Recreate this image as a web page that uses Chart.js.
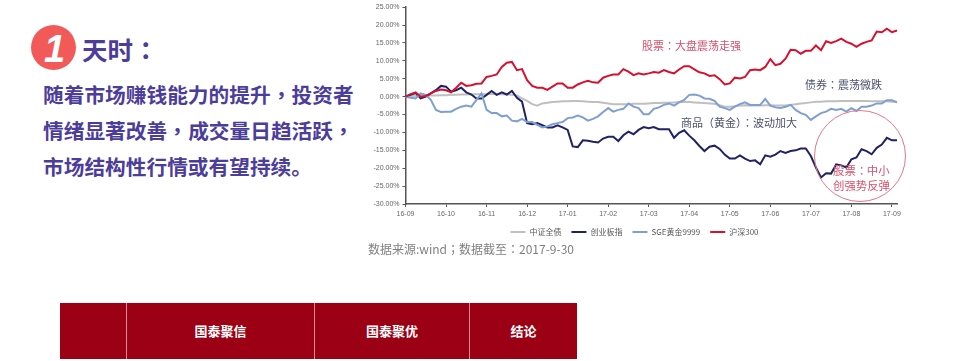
<!DOCTYPE html>
<html>
<head>
<meta charset="utf-8">
<script src="https://cdn.jsdelivr.net/npm/chart.js@4"></script>
<style>
  /* the original centres full-width punctuation, the TC cut does that */
  @font-face{font-family:Punct;font-weight:400;src:local("Noto Sans CJK TC"),local("Noto Sans CJK TC Regular");unicode-range:U+FF08,U+FF09,U+FF0C,U+FF1A,U+FF1B;}
  @font-face{font-family:Punct;font-weight:700;src:local("Noto Sans CJK TC Bold");unicode-range:U+FF08,U+FF09,U+FF0C,U+FF1A,U+FF1B;}
  html,body{margin:0;padding:0;background:#fff;}
  body{width:956px;height:361px;position:relative;overflow:hidden;font-family:Punct,"Noto Sans CJK SC",sans-serif;}
  .t{position:absolute;white-space:nowrap;line-height:1;}
  #chart{position:absolute;left:360px;top:0;}
  .body{left:43px;font-size:20.7px;font-weight:700;color:#4c3d9b;}
  .note{font-size:11px;}
  .cell{position:absolute;top:303px;height:56px;background:#9b0014;border-right:1px solid #d98b94;box-sizing:border-box;color:#fff;font-size:13px;font-weight:700;line-height:56px;text-align:center;}
</style>
</head>
<body>
<div style="position:absolute;left:31px;top:25px;width:45px;height:45px;border-radius:50%;background:#f25a5a;"></div>
<div class="t" style="left:44px;top:28px;font:italic 700 38px 'Liberation Sans';color:#fff;">1</div>
<div class="t" style="left:82px;top:36px;font-size:25.5px;font-weight:700;color:#4c3d9b;">天时：</div>
<div class="t body" style="top:84px;">随着市场赚钱能力的提升，投资者</div>
<div class="t body" style="top:120px;">情绪显著改善，成交量日趋活跃，</div>
<div class="t body" style="top:156px;">市场结构性行情或有望持续。</div>

<canvas id="chart" width="542" height="248"></canvas>

<div class="t note" style="left:642px;top:40px;color:#d9506a;">股票：大盘震荡走强</div>
<div class="t note" style="left:805px;top:79px;color:#4a5070;">债券：震荡微跌</div>
<div class="t note" style="left:681px;top:117px;color:#4a5070;">商品（黄金）：波动加大</div>
<div style="position:absolute;left:814px;top:110px;width:92px;height:92px;border:1px solid #e0768a;border-radius:50%;box-sizing:border-box;"></div>
<div class="t note" style="left:833px;top:165px;font-size:11.4px;color:#d9506a;">股票：中小</div>
<div class="t note" style="left:833px;top:180px;font-size:11.4px;color:#d9506a;">创强势反弹</div>
<div class="t" style="left:368px;top:243px;font-size:12px;color:#808080;">数据来源:wind；数据截至：2017-9-30</div>

<div class="cell" style="left:60px;width:67px;"></div>
<div class="cell" style="left:127px;width:188px;">国泰聚信</div>
<div class="cell" style="left:315px;width:155px;">国泰聚优</div>
<div class="cell" style="left:470px;width:107px;border-right:0;">结论</div>

<script>
const months = ['16-09','16-10','16-11','16-12','17-01','17-02','17-03','17-04','17-05','17-06','17-07','17-08','17-09'];
const perMonth = 8;

const bondIndex = [0,.1,.2,.2,.2,.3,.3,.4,.4,.5,.5,.6,.6,.7,.7,.7,.7,.8,.7,.7,.6,.5,.3,-.5,-1.2,-2.1,-2.5,-1.9,-1.7,-1.5,-1.4,-1.3,-1.3,-1.2,-1.2,-1.3,-1.4,-1.5,-1.5,-1.7,-1.9,-2.1,-2.1,-2.1,-2.1,-2,-2,-2,-1.9,-1.8,-1.8,-1.7,-1.7,-1.6,-1.5,-1.4,-1.5,-1.6,-1.7,-1.8,-1.9,-2,-2.4,-2.8,-2.8,-2.7,-2.5,-2.4,-2.5,-2.5,-2.5,-2.4,-2.4,-2.5,-2.5,-2.5,-2.3,-2.1,-1.9,-1.8,-1.6,-1.4,-1.4,-1.3,-1.3,-1.3,-1.2,-1.2,-1.2,-1.2,-1.2,-1.2,-1.3,-1.3,-1.3,-1.3,-1.4,-1.4];
const chinext = [0,.5,1,-.5,0,.9,1.8,3,2.8,1.4,1.8,2.5,1.2,.6,-.5,-.5,.5,1.6,.5,1.2,.6,1.6,-.3,-1.4,-7.4,-7.7,-7.4,-8,-8.6,-8.6,-8,-8.6,-9.3,-13.9,-14.1,-12.2,-12.3,-12.6,-12.8,-11.7,-11.2,-11.2,-12.4,-10.8,-9.8,-10.5,-9.3,-8.5,-8.8,-8.5,-9.1,-9.1,-9.1,-11.5,-10.1,-9.4,-10.9,-12.2,-13.8,-15.2,-14,-13.7,-14.6,-16.2,-17.3,-17.3,-16.4,-17.3,-18,-17.8,-18.9,-16.4,-16.8,-16.2,-15.2,-15.7,-15.2,-15,-14.5,-14.5,-16.6,-19.8,-22.6,-21.4,-21.5,-18.9,-19.2,-19.8,-17.5,-17,-14.7,-15.2,-16.1,-14.3,-13.4,-11.5,-12.2,-12.2];
const gold9999 = [0,-.3,-.5,.9,.5,-.9,-3.7,-4.3,-4.2,-4.2,-3.4,-2.8,-2.5,-2.8,-.9,.9,-3.7,-4.6,-4.6,-5.5,-5.3,-6.7,-6.9,-6.2,-7.1,-7.1,-7.9,-8.6,-8.3,-7.7,-7.4,-7.1,-6,-5.8,-5.3,-5.8,-6.7,-6.2,-5.5,-4.3,-3.2,-4.2,-3.7,-3.4,-1.9,-2.8,-3.2,-4.9,-4.9,-3.4,-3,-2.3,-1.9,-2.5,-1.6,-.9,.5,.6,.3,-.5,-.6,-1.2,-2.8,-3.2,-3.7,-2.8,-2.1,-1.6,-2.3,-2.3,-2.3,-.6,-2.5,-3,-3.2,-2.8,-2.3,-3.7,-4.6,-5.1,-6.5,-5.5,-4.6,-4.2,-3.4,-3.7,-3.4,-4.2,-3.2,-4,-2.8,-2.8,-2.5,-1.9,-1.9,-1,-1,-1.6];
const hs300 = [0,.7,1.2,0,.2,.9,1.6,2,1.8,1.2,2.5,3.9,3,3.2,3.6,3.7,5.5,5.8,6.2,8.3,9.5,9.7,7.4,7.7,4.6,3,2.5,2.5,1.9,2.8,3.7,3.7,2.5,2.5,3.4,4,4.4,4,3.9,5.3,5.8,6.2,6.2,7.7,7,6,6.5,6.2,6.5,6.9,6.7,7.4,6.9,6.5,7.6,8.5,8.5,7.6,6.8,6.5,5.8,6,4.9,3.4,3.7,5.3,5.1,5.5,7.4,7.6,7.4,8.3,10.5,8.8,9.2,10.6,13.1,13,12,12.8,12.8,14.3,13,15.5,15,15.5,16.2,15.3,14.8,13.9,14.8,15.3,15.7,18.2,18,19,18,18.5];

const xLabels = hs300.map((v, i) => i % perMonth === 0 ? months[i / perMonth] : '');

function series(label, data, color, order) {
  return { label, data, borderColor: color, backgroundColor: color, borderWidth: 2, pointRadius: 0, tension: 0, order };
}

new Chart(document.getElementById('chart'), {
  type: 'line',
  data: {
    labels: xLabels,
    datasets: [
      series('中证全债', bondIndex, '#bfbfbf', 3),
      series('创业板指', chinext, '#1f2264', 2),
      series('SGE黄金9999', gold9999, '#7f9fd3', 1),
      series('沪深300', hs300, '#d7102f', 0)
    ]
  },
  options: {
    responsive: false,
    animation: false,
    // left padding pushes the centred legend over to the right
    layout: { padding: { top: 5.5, left: 12, right: 5, bottom: 2 } },
    plugins: {
      tooltip: { enabled: false },
      legend: {
        position: 'bottom',
        labels: {
          boxWidth: 15, boxHeight: 0, padding: 10, color: '#595959',
          font: { size: 8, family: '"Noto Sans CJK SC"' },
          sort: (a, b) => a.datasetIndex - b.datasetIndex
        }
      }
    },
    scales: {
      x: {
        offset: false,
        afterFit: s => { s.height = 14; },
        border: { color: '#555', width: 1.5 },
        grid: { drawOnChartArea: false, tickLength: 3, tickColor: c => c.index % perMonth === 0 ? '#555' : 'transparent' },
        ticks: { autoSkip: false, maxRotation: 0, color: '#666', padding: 3, font: { size: 7, family: '"Liberation Sans"' } }
      },
      y: {
        min: -30, max: 25,
        afterFit: s => { s.width = 33.5; },
        border: { color: '#555', width: 1.5 },
        grid: { drawOnChartArea: false, tickLength: 3, tickColor: '#555' },
        ticks: { stepSize: 5, color: '#666', padding: 3, font: { size: 7, family: '"Liberation Sans"' }, callback: v => v.toFixed(2) + '%' }
      }
    }
  }
});
</script>
</body>
</html>
